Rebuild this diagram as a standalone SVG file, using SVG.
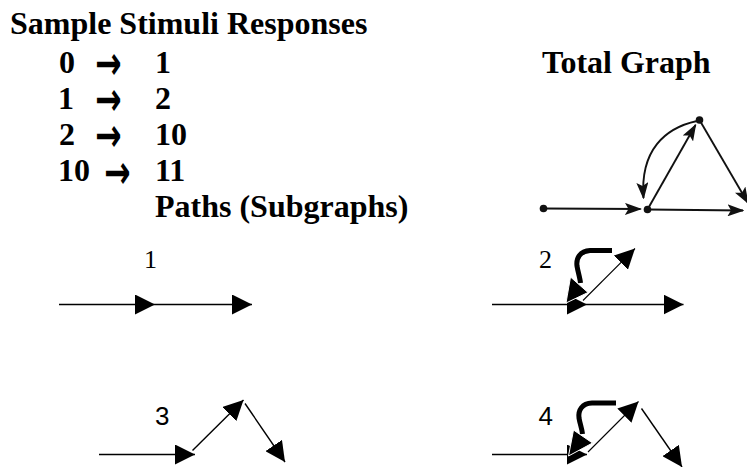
<svg xmlns="http://www.w3.org/2000/svg" width="747" height="467" viewBox="0 0 747 467">
  <style>
    .head { font-family: "Liberation Serif", "Times New Roman", serif; font-weight: bold; font-size: 32px; fill: #000; }
    .sym { font-family: "DejaVu Sans", sans-serif; font-weight: bold; font-size: 31px; fill: #000; }
    .lab { font-family: "Liberation Serif", "Times New Roman", serif; font-size: 26px; fill: #000; }
    .labs { font-family: "Liberation Sans", Arial, sans-serif; font-size: 26px; fill: #000; }
    .g-edge { fill: none; stroke: #111; stroke-width: 1.9; marker-end: url(#gArrow); }
    .g-node { fill: #111; }
    .p-edge { fill: none; stroke: #000; stroke-width: 1.4; marker-end: url(#pArrow); }
    .p-thin { fill: none; stroke: #000; stroke-width: 1.1; marker-end: url(#pArrow); }
    .p-bold { fill: none; stroke: #000; stroke-width: 5; }
    .p-boldhead { fill: #000; stroke: #fff; stroke-width: 1; stroke-linejoin: miter; }
  </style>
  <defs>
    <!-- notched head for the total graph -->
    <marker id="gArrow" viewBox="0 0 17 12" refX="15.5" refY="6" markerWidth="17" markerHeight="12" markerUnits="userSpaceOnUse" orient="auto">
      <path d="M0,0 L17,6 L0,12 L3.5,6 Z" fill="#111"/>
    </marker>
    <!-- solid triangular head for the path drawings -->
    <marker id="pArrow" viewBox="0 0 20 20" refX="20" refY="10" markerWidth="20" markerHeight="20" markerUnits="userSpaceOnUse" orient="auto">
      <path d="M0,0 L20,10 L0,20 Z" fill="#000"/>
    </marker>
  </defs>

  <!-- heading and stimulus/response table -->
  <g id="table">
    <text class="head" x="10" y="34">Sample Stimuli Responses</text>
    <text class="head" x="59" y="72.5">0</text>
    <text class="sym" x="0" y="10.5" transform="translate(95,63.5) scale(1.02,1.5)">→</text>
    <text class="head" x="155" y="72.5">1</text>
    <text class="head" x="58" y="108.5">1</text>
    <text class="sym" x="0" y="10.5" transform="translate(95,99.5) scale(1.02,1.5)">→</text>
    <text class="head" x="155" y="108.5">2</text>
    <text class="head" x="59" y="144.5">2</text>
    <text class="sym" x="0" y="10.5" transform="translate(95,135.5) scale(1.02,1.5)">→</text>
    <text class="head" x="155" y="144.5">10</text>
    <text class="head" x="58" y="181">10</text>
    <text class="sym" x="0" y="10.5" transform="translate(104,172) scale(1.02,1.5)">→</text>
    <text class="head" x="155" y="181">11</text>
    <text class="head" x="155" y="216.5">Paths (Subgraphs)</text>
    <text class="head" x="542" y="72.5">Total Graph</text>
  </g>

  <!-- total graph -->
  <g id="total-graph">
    <g id="tg-edges">
      <path class="g-edge" d="M543.5,208.5 L640.5,209"/>
      <path class="g-edge" d="M647.5,209.5 L743,210.5"/>
      <path class="g-edge" d="M647.5,209.5 L695.5,125"/>
      <path class="g-edge" d="M699.5,120 L748,203"/>
      <path class="g-edge" d="M697,121 C665,128 640,150 643.5,198"/>
    </g>
    <g id="tg-n0"><circle class="g-node" cx="543.5" cy="208.5" r="3.8"/></g>
    <g id="tg-n1"><circle class="g-node" cx="647.5" cy="209.5" r="3.8"/></g>
    <g id="tg-n2"><circle class="g-node" cx="699.5" cy="120" r="3.8"/></g>
  </g>

  <!-- path 1 -->
  <g id="path1">
    <text class="lab" x="144" y="268">1</text>
    <path class="p-edge" d="M59,304.5 L155,304.5"/>
    <path class="p-edge" d="M155,304.5 L252,304.5"/>
  </g>

  <!-- path 2 -->
  <g id="path2">
    <text class="lab" x="539" y="268">2</text>
    <path class="p-edge" d="M492,304.5 L587,304.5"/>
    <path class="p-edge" d="M587,304.5 L683.5,304.5"/>
    <path class="p-thin" d="M583,300.5 L635,248.5"/>
    <path class="p-bold" d="M612,250.5 L590,250.5 C580,251 576,258 577,266 C578,272 580,278 580.5,283"/>
    <polygon class="p-boldhead" points="570.5,277 588,292.5 566,303"/>
  </g>

  <!-- path 3 -->
  <g id="path3">
    <text class="labs" x="155" y="425">3</text>
    <path class="p-edge" d="M99,454.5 L195,454.5"/>
    <path class="p-edge" d="M192.5,450.5 L243.5,400"/>
    <path class="p-edge" d="M245,403.5 L285,462"/>
  </g>

  <!-- path 4 -->
  <g id="path4">
    <text class="labs" x="538.5" y="425">4</text>
    <path class="p-edge" d="M492,454.5 L587,454.5"/>
    <path class="p-thin" d="M588,452 L638.5,401.5"/>
    <path class="p-edge" d="M641.5,408.5 L682,467"/>
    <path class="p-bold" d="M616,403 L592,403 C582,403.5 578,410 579,418 C580,424 582,429 582.5,434"/>
    <polygon class="p-boldhead" points="573.5,430 592.5,443 568.5,456"/>
  </g>
</svg>
